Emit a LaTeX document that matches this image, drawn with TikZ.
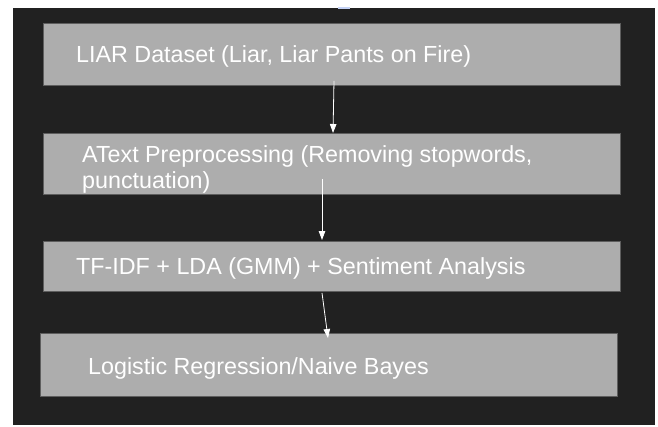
\documentclass[tikz,border=0pt]{standalone}
\usepackage{fontspec}
\setmainfont{Liberation Sans}
\usetikzlibrary{arrows.meta}

\definecolor{fondo}{HTML}{212121}
\definecolor{caja}{HTML}{ADADAD}
\definecolor{borde}{HTML}{5E5E5E}
\definecolor{marca}{HTML}{C4D2F5}

\tikzset{
    paso/.style={draw=borde, line width=0.9pt, fill=caja, rectangle,
        minimum width=577pt, anchor=north west, inner sep=0pt},
    rotulo/.style={text=white, anchor=base west, inner sep=0pt, align=left,
        font=\fontsize{23.3}{26}\selectfont},
    flujo/.style={draw=white, line width=0.8pt,
        -{Triangle[width=6.5pt,length=9pt]}}
}

\begin{document}
\begin{tikzpicture}[x=1pt, y=-1pt]
        \useasboundingbox (0,0) rectangle (658,426);

        % Fondo oscuro
        \fill[fondo] (13,8) rectangle (655,425);
        \fill[marca] (338,7) rectangle (350,9);

        % Cajas del flujo
        \node[paso, minimum height=62pt] (liar) at (43,23) {};
        \node[paso, minimum height=61pt] (prep) at (43,133) {};
        \node[paso, minimum height=50pt] (tfidf) at (43,241) {};
        \node[paso, minimum height=63pt] (clf) at (40,333) {};

        % Textos (base de la ultima linea en las de dos lineas)
        \node[rotulo] (liar-txt) at (76,62) {LIAR Dataset (Liar, Liar Pants on Fire)};
        \node[rotulo] (prep-txt) at (82,188) {AText Preprocessing (Removing stopwords,\\punctuation)};
        \node[rotulo] (tfidf-txt) at (76,274) {TF-IDF + LDA (GMM) + Sentiment Analysis};
        \node[rotulo] (clf-txt) at (88,374) {Logistic Regression/Naive Bayes};

        % Flechas entre pasos
        \draw[flujo] ([shift={(291,-5)}]liar.south west) -- ([shift={(290,0)}]prep.north west);
        \draw[flujo] ([shift={(279,-16)}]prep.south west) -- ([shift={(279,-1)}]tfidf.north west);
        \draw[flujo] ([shift={(279,1)}]tfidf.south west) -- ([shift={(288,5)}]clf.north west);

\end{tikzpicture}
\end{document}
